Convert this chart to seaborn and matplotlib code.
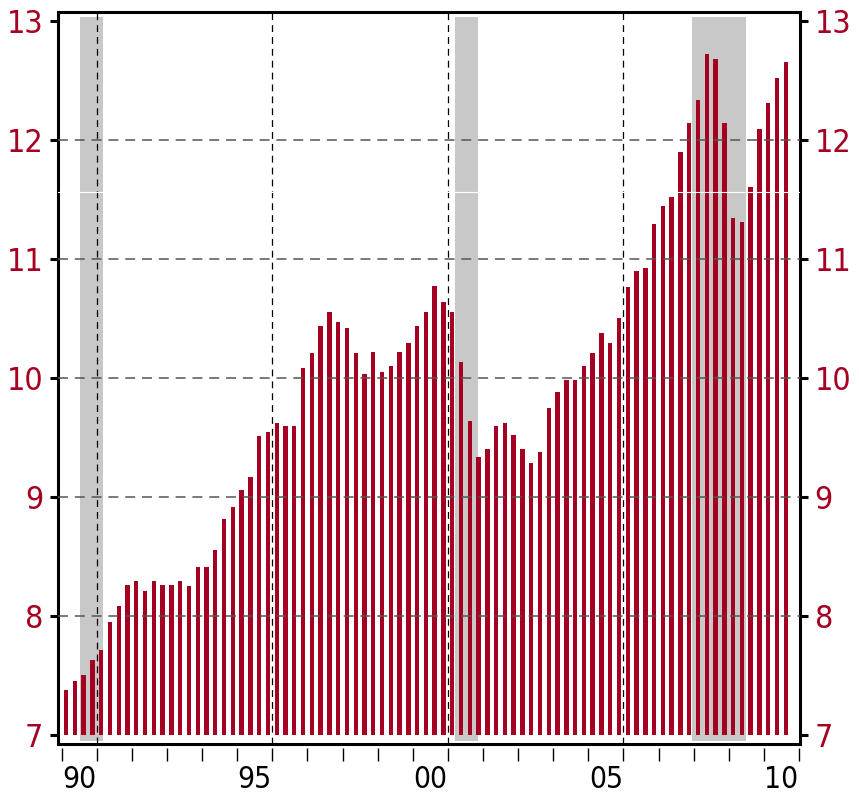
import numpy as np
import pandas as pd
import matplotlib
matplotlib.use("Agg")
import matplotlib.pyplot as plt
from matplotlib import font_manager
import seaborn as sns

# quarterly values, 1990Q1 .. 2010Q3
values = [7.38, 7.46, 7.51, 7.63, 7.72, 7.95, 8.09, 8.26, 8.30, 8.21,
          8.30, 8.26, 8.26, 8.30, 8.25, 8.41, 8.41, 8.56, 8.82, 8.92,
          9.06, 9.17, 9.51, 9.55, 9.62, 9.60, 9.60, 10.08, 10.21, 10.44,
          10.55, 10.47, 10.42, 10.21, 10.03, 10.22, 10.05, 10.10, 10.22, 10.29,
          10.44, 10.55, 10.77, 10.64, 10.55, 10.13, 9.64, 9.34, 9.40, 9.60,
          9.62, 9.52, 9.40, 9.29, 9.38, 9.75, 9.88, 9.98, 9.98, 10.10,
          10.21, 10.38, 10.29, 10.50, 10.76, 10.90, 10.92, 11.29, 11.44, 11.52,
          11.90, 12.14, 12.33, 12.72, 12.68, 12.14, 11.34, 11.31, 11.60, 12.09,
          12.31, 12.52, 12.65]
first_year = 1990

# recessions (decimal years)
rec_start = [1990.52, 2001.20, 2007.96]
rec_end = [1991.17, 2001.86, 2009.50]

year_labels = ["90", "95", "00", "05", "10"]
label_years = [1990, 1995, 2000, 2005, 2010]
vgrid_years = [1991, 1996, 2001, 2006]
hgrid_vals = [8, 9, 10, 11, 12]
ytick_vals = [7, 8, 9, 10, 11, 12, 13]

base = 7
bar_color = "#A50021"

sns.set_theme(style="white")

# narrow face if there is one
names = {f.name for f in font_manager.fontManager.ttflist}
narrow = [n for n in ["Liberation Sans Narrow", "Arial Narrow", "DejaVu Sans Condensed"] if n in names]
plt.rcParams["font.family"] = narrow + ["DejaVu Sans"]
plt.rcParams["font.stretch"] = "condensed"

df = pd.DataFrame({
    "t": first_year + 0.125 + 0.25 * np.arange(len(values)),
    "v": np.array(values) - base,
})

fig = plt.figure(figsize=(8.59, 7.93), dpi=100)
ax = fig.add_axes([0.0675, 0.0618, 0.8638, 0.9231])

for s, e in zip(rec_start, rec_end):
    ax.axvspan(s, e, ymin=0.004, ymax=0.9925, color="#C8C8C8", lw=0, zorder=0)
for yr in vgrid_years:
    ax.axvline(yr, color="black", lw=0.9, dashes=(5.5, 4), zorder=0.5)

sns.barplot(data=df, x="t", y="v", native_scale=True, width=0.5,
            color=bar_color, saturation=1, errorbar=None, bottom=base,
            linewidth=0, edgecolor="none", ax=ax, zorder=1)

for v in hgrid_vals:
    ax.axhline(v, color="#555555", lw=1.1, dashes=(6.5, 4.5), zorder=3)
ax.axhline(11.565, color="white", lw=0.8, zorder=3)

ax.set_xlim(1989.895, 2011.03)
ax.set_ylim(6.928, 13.072)
ylo = ax.get_ylim()[0]
ax.axhline(ylo, color="black", lw=2.2, clip_on=False, zorder=5)

ax.set_yticks(ytick_vals)
ax.set_yticklabels([str(v) for v in ytick_vals])
ax.tick_params(axis="y", left=True, right=True, labelleft=True, labelright=True,
               direction="out", length=6, width=2.2, pad=4.5,
               labelsize=23, labelcolor=bar_color, color="black")

ax.set_xticks(np.arange(1990, 2012))
ax.set_xticklabels([])
ax.set_xticks([y + 0.5 for y in label_years], minor=True)
ax.set_xticklabels(year_labels, minor=True)
ax.tick_params(axis="x", which="major", bottom=True, direction="out",
               length=9.5, width=1.0, color="black")
ax.tick_params(axis="x", which="minor", bottom=True, length=0, pad=12,
               labelsize=21.5, labelcolor="black")

ax.spines["bottom"].set_position(("outward", 3))
ax.spines["bottom"].set_visible(False)
for side in ["top", "left", "right"]:
    ax.spines[side].set_linewidth(2.2)
    ax.spines[side].set_color("black")

ax.set_xlabel("")
ax.set_ylabel("")

fig.savefig("out.png", dpi=100)
